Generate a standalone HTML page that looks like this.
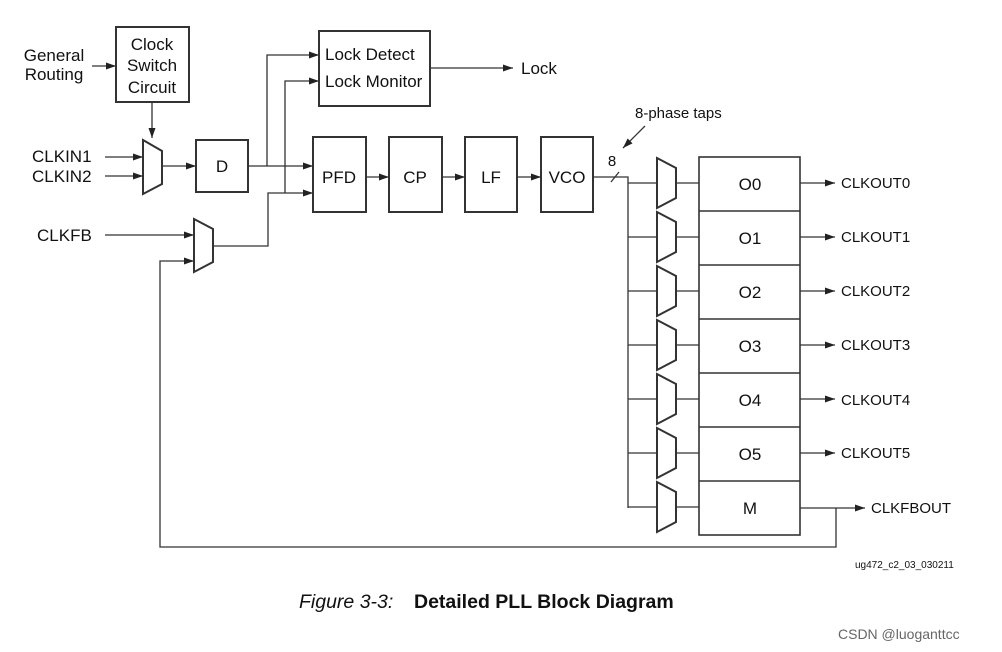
<!DOCTYPE html>
<html><head><meta charset="utf-8"><style>
html,body{margin:0;padding:0;background:#fff;}
svg{display:block;font-family:"Liberation Sans",Arial,sans-serif;}
</style></head><body>
<svg width="1002" height="652" viewBox="0 0 1002 652" xmlns="http://www.w3.org/2000/svg">
<defs>
<marker id="a" markerWidth="10" markerHeight="8" refX="10" refY="4" orient="auto" markerUnits="userSpaceOnUse">
<path d="M0,0.5 L10,4 L0,7.5 z" fill="#222"/></marker>
</defs>
<g fill="none" stroke="#333" stroke-width="1.3">
<rect x="116" y="27" width="73" height="75" stroke-width="2"/>
<rect x="196" y="140" width="52" height="52" stroke-width="2"/>
<rect x="319" y="31" width="111" height="75" stroke-width="2"/>
<rect x="313" y="137" width="53" height="75" stroke-width="2"/>
<rect x="389" y="137" width="53" height="75" stroke-width="2"/>
<rect x="465" y="137" width="52" height="75" stroke-width="2"/>
<rect x="541" y="137" width="52" height="75" stroke-width="2"/>
<rect x="699" y="157" width="101" height="378" stroke-width="1.6"/>
<path d="M699 211H800M699 265H800M699 319H800M699 373H800M699 427H800M699 481H800" stroke-width="1.6"/>
<path d="M143 140 L162 151 L162 184 L143 194 Z" stroke-width="2"/>
<path d="M194 219 L213 229 L213 262 L194 272 Z" stroke-width="2"/>
<path d="M92 66H116" marker-end="url(#a)"/>
<path d="M152 102V138" marker-end="url(#a)"/>
<path d="M105 157H143" marker-end="url(#a)"/>
<path d="M105 176H143" marker-end="url(#a)"/>
<path d="M162 166H196" marker-end="url(#a)"/>
<path d="M248 166H313" marker-end="url(#a)"/>
<path d="M267 166V55H319" marker-end="url(#a)"/>
<path d="M285 193V81H319" marker-end="url(#a)"/>
<path d="M213 246H268V193H313" marker-end="url(#a)"/>
<path d="M105 235H194" marker-end="url(#a)"/>
<path d="M836 508V547H160V261H194" marker-end="url(#a)"/>
<path d="M430 68H513" marker-end="url(#a)"/>
<path d="M366 177H389" marker-end="url(#a)"/>
<path d="M442 177H465" marker-end="url(#a)"/>
<path d="M517 177H541" marker-end="url(#a)"/>
<path d="M593 177H628V508"/>
<path d="M611 182L619 172"/>
<path d="M645 126L623 148" marker-end="url(#a)"/>
<path d="M800 508H865" marker-end="url(#a)"/>
<path d="M800 183H835" marker-end="url(#a)"/>
<path d="M800 237H835" marker-end="url(#a)"/>
<path d="M800 291H835" marker-end="url(#a)"/>
<path d="M800 345H835" marker-end="url(#a)"/>
<path d="M800 399H835" marker-end="url(#a)"/>
<path d="M800 453H835" marker-end="url(#a)"/>
</g>
<g fill="none" stroke="#333">
<g id="r">
<path d="M657 158 L676 168 L676 198 L657 208 Z" stroke-width="2"/>
</g>
<use href="#r" y="54"/><use href="#r" y="108"/><use href="#r" y="162"/><use href="#r" y="216"/><use href="#r" y="270"/><use href="#r" y="324"/>
<path d="M628 183H657M676 183H699M628 237H657M676 237H699M628 291H657M676 291H699M628 345H657M676 345H699M628 399H657M676 399H699M628 453H657M676 453H699M628 507H657M676 507H699" stroke-width="1.3"/>
</g>
<g fill="#111" font-size="17">
<text x="54" y="61" text-anchor="middle">General</text>
<text x="54" y="80" text-anchor="middle">Routing</text>
<text x="152" y="50" text-anchor="middle">Clock</text>
<text x="152" y="71" text-anchor="middle">Switch</text>
<text x="152" y="93" text-anchor="middle">Circuit</text>
<text x="32" y="162">CLKIN1</text>
<text x="32" y="182">CLKIN2</text>
<text x="37" y="241">CLKFB</text>
<text x="222" y="172" text-anchor="middle">D</text>
<text x="325" y="60">Lock Detect</text>
<text x="325" y="87">Lock Monitor</text>
<text x="521" y="74">Lock</text>
<text x="339" y="183" text-anchor="middle">PFD</text>
<text x="415" y="183" text-anchor="middle">CP</text>
<text x="491" y="183" text-anchor="middle">LF</text>
<text x="567" y="183" text-anchor="middle">VCO</text>
<text x="612" y="166" font-size="15" text-anchor="middle">8</text>
<text x="635" y="118" font-size="15">8-phase taps</text>
<text x="750" y="190" text-anchor="middle">O0</text>
<text x="750" y="244" text-anchor="middle">O1</text>
<text x="750" y="298" text-anchor="middle">O2</text>
<text x="750" y="352" text-anchor="middle">O3</text>
<text x="750" y="406" text-anchor="middle">O4</text>
<text x="750" y="460" text-anchor="middle">O5</text>
<text x="750" y="514" text-anchor="middle">M</text>
<g font-size="15">
<text x="841" y="188">CLKOUT0</text>
<text x="841" y="242">CLKOUT1</text>
<text x="841" y="296">CLKOUT2</text>
<text x="841" y="350">CLKOUT3</text>
<text x="841" y="405">CLKOUT4</text>
<text x="841" y="458">CLKOUT5</text>
<text x="871" y="513">CLKFBOUT</text>
</g>
<text x="855" y="568" font-size="10">ug472_c2_03_030211</text>
<text x="299" y="608" font-size="19.5" font-style="italic">Figure 3-3:</text>
<text x="414" y="608" font-size="19.5" font-weight="bold">Detailed PLL Block Diagram</text>
<text x="838" y="639" font-size="14" fill="#666">CSDN @luoganttcc</text>
</g>
</svg>
</body></html>
